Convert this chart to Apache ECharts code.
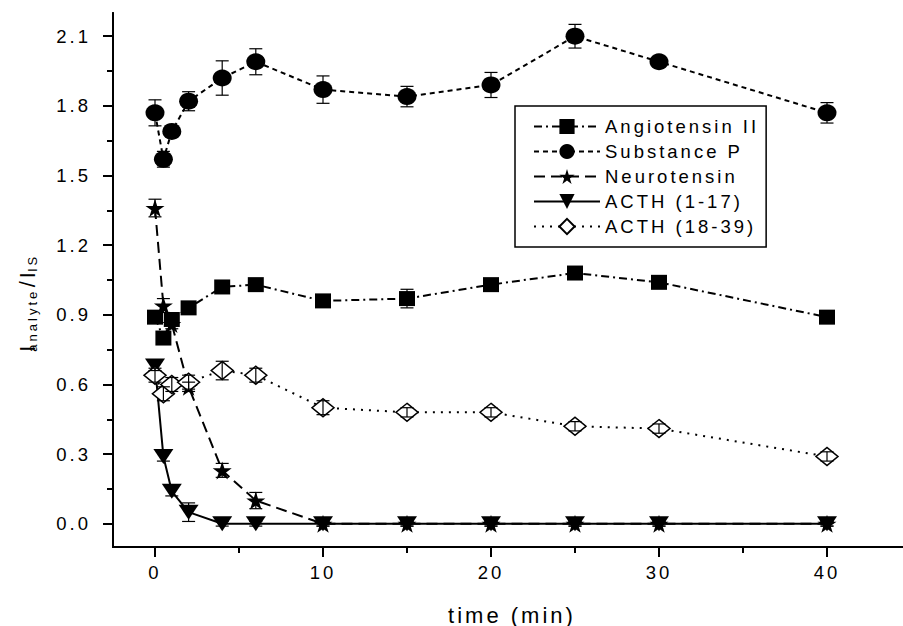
<!DOCTYPE html>
<html>
<head>
<meta charset="utf-8">
<script src="https://cdn.jsdelivr.net/npm/echarts@6/dist/echarts.min.js"></script>
<style>
  html, body { margin: 0; padding: 0; background: #fff; }
  #chart { width: 903px; height: 626px; }
  #chart text { letter-spacing: 3px; }
</style>
</head>
<body>
<div id="chart"></div>
<script>
// sampling times (min)
const times = [0, 0.5, 1, 2, 4, 6, 10, 15, 20, 25, 30, 40];

// I_analyte / I_IS per peptide, with error half-widths
const angiotensin = [0.89, 0.80, 0.88, 0.93, 1.02, 1.03, 0.96, 0.97, 1.03, 1.08, 1.04, 0.89];
const angiotensinErr = [0.02, 0.02, 0.02, 0.02, 0.02, 0.02, 0.02, 0.04, 0.02, 0.02, 0.02, 0.02];
const substanceP = [1.77, 1.57, 1.69, 1.82, 1.92, 1.99, 1.87, 1.84, 1.89, 2.10, 1.99, 1.77];
const substancePErr = [0.056, 0.034, 0.02, 0.041, 0.074, 0.056, 0.059, 0.044, 0.054, 0.051, 0.02, 0.044];
const neurotensin = [1.36, 0.94, 0.86, 0.59, 0.23, 0.10, 0, 0, 0, 0, 0, 0];
const neurotensinErr = [0.038, 0.03, 0.02, 0.02, 0.03, 0.035, 0.01, 0.01, 0.01, 0.01, 0.01, 0.01];
const acth117 = [0.68, 0.29, 0.14, 0.05, 0, 0, 0, 0, 0, 0, 0, 0];
const acth117Err = [0.02, 0.02, 0.02, 0.04, 0.01, 0.01, 0.01, 0.01, 0.01, 0.01, 0.01, 0.01];
const acth1839 = [0.64, 0.56, 0.60, 0.61, 0.66, 0.64, 0.50, 0.48, 0.48, 0.42, 0.41, 0.29];
const acth1839Err = [0.03, 0.03, 0.03, 0.03, 0.04, 0.03, 0.03, 0.02, 0.02, 0.02, 0.02, 0.02];

// axis ticks
const xTicks = [0, 10, 20, 30, 40];
const xMinorTicks = [5, 15, 25, 35];
const yTicks = [0, 0.3, 0.6, 0.9, 1.2, 1.5, 1.8, 2.1];
const yMinorTicks = [0.15, 0.45, 0.75, 1.05, 1.35, 1.65, 1.95];

const STAR = 'path://M50,0 L61,35 L98,35 L68,57 L79,91 L50,70 L21,91 L32,57 L2,35 L39,35 Z';
const FONT = 'Liberation Sans';
const SPACING = 3; // css letter-spacing, rich tokens need it as padding

const chart = echarts.init(document.getElementById('chart'), null, { renderer: 'svg' });

function pairs(vals) {
  return times.map((t, i) => [t, vals[i]]);
}

function errData(vals, errs) {
  return times.map((t, i) => [t, vals[i] - errs[i], vals[i] + errs[i]]);
}

function errSeries(vals, errs) {
  return {
    type: 'custom',
    z: 5,
    silent: true,
    data: errData(vals, errs),
    renderItem: function (params, api) {
      const top = api.coord([api.value(0), api.value(2)]);
      const bot = api.coord([api.value(0), api.value(1)]);
      const hw = 6.5;
      const st = { stroke: '#000', lineWidth: 1.2 };
      return {
        type: 'group',
        children: [
          { type: 'line', shape: { x1: top[0], y1: top[1], x2: bot[0], y2: bot[1] }, style: st },
          { type: 'line', shape: { x1: top[0] - hw, y1: top[1], x2: top[0] + hw, y2: top[1] }, style: st },
          { type: 'line', shape: { x1: bot[0] - hw, y1: bot[1], x2: bot[0] + hw, y2: bot[1] }, style: st }
        ]
      };
    }
  };
}

function lineSeries(name, vals, symbol, size, dash, extra) {
  return Object.assign({
    name: name,
    type: 'line',
    data: pairs(vals),
    symbol: symbol,
    symbolSize: size,
    showAllSymbol: true,
    z: 3,
    lineStyle: { color: '#000', width: 2, type: dash },
    itemStyle: { color: '#000', borderColor: '#000', borderWidth: 0, opacity: 1 },
    emphasis: { disabled: true }
  }, extra || {});
}

function mainTok(n) {
  return { fontFamily: FONT, fontSize: 22, lineHeight: 24, fill: '#000', padding: [0, n * SPACING, 0, 0] };
}
function subTok(n) {
  return { fontFamily: FONT, fontSize: 13, lineHeight: 13, padding: [14, n * SPACING, 0, 0], verticalAlign: 'bottom', fill: '#000' };
}

const axisLine = { show: true, onZero: false, lineStyle: { color: '#000', width: 2 } };
const labelStyle = { color: '#000', fontFamily: FONT, fontSize: 18.5 };

chart.setOption({
  animation: false,
  grid: { left: 113, top: 13, width: 798, height: 534, outerBoundsMode: 'none' },
  xAxis: [{
    type: 'value', min: -2.5, max: 45,
    axisLine: axisLine,
    splitLine: { show: false },
    axisTick: { show: true, inside: false, length: 10, customValues: xTicks, lineStyle: { color: '#000', width: 2 } },
    axisLabel: Object.assign({ customValues: xTicks, margin: 16 }, labelStyle),
    name: 'time (min)', nameLocation: 'middle', nameGap: 57,
    nameTextStyle: { color: '#000', fontFamily: FONT, fontSize: 22 }
  }, {
    type: 'value', min: -2.5, max: 45, gridIndex: 0, position: 'bottom',
    axisLine: axisLine,
    splitLine: { show: false },
    axisTick: { show: true, inside: false, length: 6, customValues: xMinorTicks, lineStyle: { color: '#000', width: 2 } },
    axisLabel: { show: false }
  }],
  yAxis: [{
    type: 'value', min: -0.1, max: 2.2,
    axisLine: axisLine,
    splitLine: { show: false },
    axisTick: { show: true, inside: false, length: 10, customValues: yTicks, lineStyle: { color: '#000', width: 2 } },
    axisLabel: Object.assign({ customValues: yTicks, margin: 22, formatter: v => v.toFixed(1) }, labelStyle)
  }, {
    type: 'value', min: -0.1, max: 2.2, gridIndex: 0, position: 'left',
    axisLine: axisLine,
    splitLine: { show: false },
    axisTick: { show: true, inside: false, length: 6, customValues: yMinorTicks, lineStyle: { color: '#000', width: 2 } },
    axisLabel: { show: false }
  }],
  legend: {
    orient: 'vertical',
    left: 515, top: 106,
    padding: [10, 46, 10, 18],
    borderColor: '#000', borderWidth: 1.5,
    itemWidth: 66, itemHeight: 19, itemGap: 4, itemTextGap: 7,
    textStyle: { color: '#000', fontFamily: FONT, fontSize: 18.5, lineHeight: 21 },
    data: ['Angiotensin II', 'Substance P', 'Neurotensin', 'ACTH (1-17)', 'ACTH (18-39)']
  },
  graphic: [{
    type: 'text',
    x: 27, y: 302,
    rotation: Math.PI / 2,
    style: {
      text: '{m1|I}{s1|analyte}{m2|/I}{s2|IS}',
      align: 'center', verticalAlign: 'middle',
      fill: '#000',
      rich: {
        m1: mainTok(1),
        s1: subTok(5),
        m2: mainTok(1),
        s2: subTok(1)
      }
    }
  }],
  series: [
    lineSeries('Angiotensin II', angiotensin, 'rect', [16, 15], [8, 4, 2, 4]),
    lineSeries('Substance P', substanceP, 'circle', [19, 17], [5, 4]),
    lineSeries('Neurotensin', neurotensin, STAR, [19, 18], [11, 6]),
    lineSeries('ACTH (1-17)', acth117, 'triangle', [20, 15], 'solid', { symbolRotate: 180 }),
    lineSeries('ACTH (18-39)', acth1839, 'diamond', [22, 18], [2, 6], {
      itemStyle: { color: '#fff', borderColor: '#000', borderWidth: 1.5, opacity: 1 }
    }),
    errSeries(angiotensin, angiotensinErr),
    errSeries(substanceP, substancePErr),
    errSeries(neurotensin, neurotensinErr),
    errSeries(acth117, acth117Err),
    errSeries(acth1839, acth1839Err)
  ]
});
</script>
</body>
</html>
